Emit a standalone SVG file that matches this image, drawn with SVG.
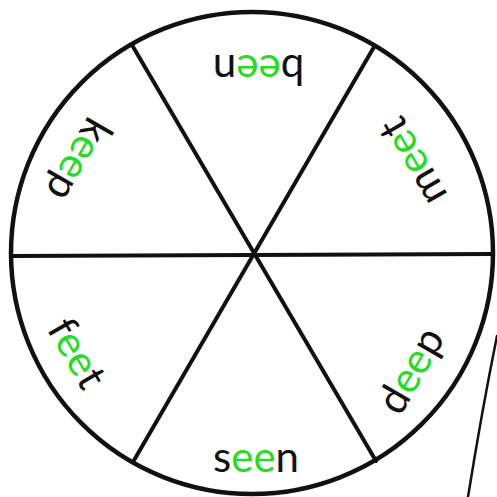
<svg xmlns="http://www.w3.org/2000/svg" width="497" height="497" viewBox="0 0 497 497">
<style>
.w{font-family:Lato,"Open Sans","Liberation Sans",sans-serif;font-size:42px;fill:#111;text-anchor:middle}
.g{fill:#22dd22}
.ln{stroke:#111;fill:none;stroke-linecap:round}
</style>
<rect width="497" height="497" fill="#fff"/>
<g id="connectors">
<circle class="ln" cx="252" cy="253" r="241" stroke-width="4.5"/>
<line class="ln" x1="11" y1="256" x2="493" y2="254" stroke-width="4"/>
<line class="ln" x1="132" y1="45" x2="376" y2="461" stroke-width="4"/>
<line class="ln" x1="374" y1="47" x2="133" y2="462" stroke-width="4"/>
<path class="ln" d="M497,336 Q482,410 468,497" stroke-width="2.5"/>
</g>
<g id="been"><text class="w" transform="translate(258.5,55) rotate(180)">b<tspan class="g">ee</tspan>n</text></g>
<g id="meet"><text class="w" transform="translate(424.8,154.5) rotate(240)">m<tspan class="g">ee</tspan>t</text></g>
<g id="deep"><text class="w" transform="translate(423,377.4) rotate(-60)">d<tspan class="g">ee</tspan>p</text></g>
<g id="seen"><text class="w" transform="translate(256,472)">s<tspan class="g">ee</tspan>n</text></g>
<g id="feet"><text class="w" transform="translate(64.7,360.4) rotate(60)">f<tspan class="g">ee</tspan>t</text></g>
<g id="keep"><text class="w" transform="translate(66.7,152.6) rotate(120)">k<tspan class="g">ee</tspan>p</text></g>
</svg>
